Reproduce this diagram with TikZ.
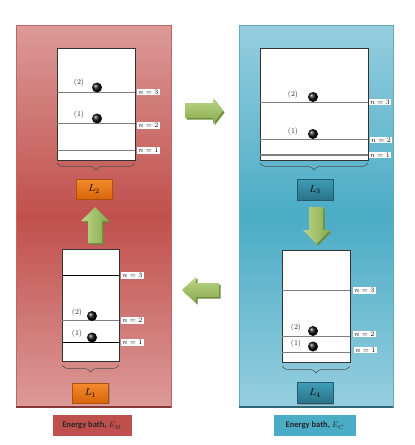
\documentclass[tikz,border=0pt]{standalone}
\usepackage{fontspec}
\newfontfamily\calibri{Carlito}
\usetikzlibrary{decorations.pathreplacing,shadows}
\definecolor{redlight}{HTML}{DC9A98}
\definecolor{reddark}{HTML}{C0504D}
\definecolor{redframe}{HTML}{B0403D}
\definecolor{bluelight}{HTML}{96CEDE}
\definecolor{bluedark}{HTML}{4BACC6}
\definecolor{blueframe}{HTML}{3A93AB}
\definecolor{grlight}{HTML}{BCD68A}
\definecolor{grdark}{HTML}{86A94A}
\definecolor{grshadow}{HTML}{6E8A3A}
\definecolor{orlight}{HTML}{F48C2E}
\definecolor{ordark}{HTML}{D9650B}
\definecolor{tllight}{HTML}{3E9DB8}
\definecolor{tldark}{HTML}{2A7288}
\definecolor{levelgray}{HTML}{7F7F7F}
\tikzset{
  wellbox/.style={draw=black!80, fill=white, line width=0.5pt},
  lvl/.style={draw=levelgray, line width=0.7pt},
  lvlblack/.style={draw=black, line width=0.7pt},
  nlab/.style={fill=white, inner xsep=1.5pt, inner ysep=1pt, anchor=west, font=\fontsize{7.5}{8}\selectfont},
  plab/.style={inner sep=0pt, text=black!85, font=\fontsize{7.5}{8}\selectfont},
  electron/.style={circle, minimum size=10pt, inner sep=0pt, shading=ball, ball color=black!95},
  bracestyle/.style={draw=black!70, line width=0.5pt, decorate, decoration={brace, amplitude=7pt}},
  lorange/.style={minimum width=36pt, minimum height=20pt, inner sep=0pt, top color=orlight, bottom color=ordark, draw=ordark!80!black, line width=0.3pt, drop shadow={shadow xshift=1.2pt, shadow yshift=-1.2pt, opacity=0.6}, font=\fontsize{10}{11}\selectfont},
  lteal/.style={minimum width=36pt, minimum height=21pt, inner sep=0pt, top color=tllight, bottom color=tldark, draw=tldark!80!black, line width=0.3pt, drop shadow={shadow xshift=1.2pt, shadow yshift=-1.2pt, opacity=0.6}, font=\fontsize{10}{11}\selectfont},
  bath/.style={minimum height=23pt, inner sep=0pt, draw=white, line width=2pt, font=\calibri\bfseries\fontsize{8.5}{9}\selectfont, text=black!85, drop shadow={shadow xshift=1pt, shadow yshift=-1pt, opacity=0.35}},
}
\begin{document}
\begin{tikzpicture}[x=1pt,y=-1pt]
\useasboundingbox (0,0) rectangle (415,445);
% panels
\shade[top color=redlight, bottom color=redlight, middle color=reddark] (16,25) rectangle (171,407);
\draw[redframe!80, line width=0.6pt] (16,25) rectangle (171,407);
\draw[reddark!70!black, line width=1.6pt] (16,407) -- (171,407);
\shade[top color=bluelight, bottom color=bluelight, middle color=bluedark] (239,25) rectangle (393,407);
\draw[blueframe!80, line width=0.6pt] (239,25) rectangle (393,407);
\draw[bluedark!60!black, line width=1.6pt] (239,407) -- (393,407);

% ---------- L2 ----------
\node[wellbox, minimum width=78pt, minimum height=112pt, anchor=north west] (b2) at (57,48) {};
\draw[lvl] (57,92) -- (135,92);
\draw[lvl] (57,123) -- (135,123);
\draw[lvl] (57,150) -- (135,150);
\node[nlab] (b2n3) at (137,92) {$n=3$};
\node[nlab] (b2n2) at (137,125.5) {$n=2$};
\node[nlab] (b2n1) at (137,150.5) {$n=1$};
\node[electron] (b2e2) at (97,87.5) {};
\node[electron] (b2e1) at (97,118.5) {};
\node[plab] (b2p2) at (79,83) {(2)};
\node[plab] (b2p1) at (79,114.5) {(1)};
\draw[bracestyle] (135,163) -- (57,163);
\node[lorange] (L2) at (94,189) {$L_2$};

% ---------- L3 ----------
\node[wellbox, minimum width=108pt, minimum height=112pt, anchor=north west] (b3) at (260,48) {};
\draw[lvl] (260,102) -- (368,102);
\draw[lvl] (260,139) -- (368,139);
\draw[levelgray, line width=1.8pt] (260,155) -- (368,155);
\node[nlab] (b3n3) at (368.5,102) {$n=3$};
\node[nlab] (b3n2) at (369.5,140) {$n=2$};
\node[nlab] (b3n1) at (368.5,155) {$n=1$};
\node[electron] (b3e2) at (313,97) {};
\node[electron] (b3e1) at (313,134) {};
\node[plab] (b3p2) at (293,94.5) {(2)};
\node[plab] (b3p1) at (293,132) {(1)};
\draw[bracestyle] (368,163) -- (260,163);
\node[lteal] (L3) at (315,189.5) {$L_3$};

% ---------- L1 ----------
\node[wellbox, minimum width=57pt, minimum height=112pt, anchor=north west] (b1) at (62,249) {};
\draw[lvlblack] (62,275) -- (119,275);
\draw[lvl] (62,320) -- (119,320);
\draw[lvlblack] (62,342) -- (119,342);
\node[nlab] (b1n3) at (121,275.5) {$n=3$};
\node[nlab] (b1n2) at (121,320.5) {$n=2$};
\node[nlab] (b1n1) at (121,342.5) {$n=1$};
\node[electron] (b1e2) at (92,316) {};
\node[electron] (b1e1) at (92,337.5) {};
\node[plab] (b1p2) at (77,313) {(2)};
\node[plab] (b1p1) at (77,334) {(1)};
\draw[bracestyle] (119,365) -- (62,365);
\node[lorange] (L1) at (90.5,393) {$L_1$};

% ---------- L4 ----------
\node[wellbox, minimum width=68pt, minimum height=112pt, anchor=north west] (b4) at (282,250) {};
\draw[lvl] (282,290) -- (350,290);
\draw[lvl] (282,336) -- (350,336);
\draw[lvl] (282,352) -- (350,352);
\node[nlab] (b4n3) at (353,290.5) {$n=3$};
\node[nlab] (b4n2) at (353,334) {$n=2$};
\node[nlab] (b4n1) at (354,350) {$n=1$};
\node[electron] (b4e2) at (313,331) {};
\node[electron] (b4e1) at (313,346.5) {};
\node[plab] (b4p2) at (296,328) {(2)};
\node[plab] (b4p1) at (296,344) {(1)};
\draw[bracestyle] (350,366) -- (282,366);
\node[lteal] (L4) at (315,393) {$L_4$};

% ---------- green arrows ----------
% right arrow (top)
\fill[grshadow] (186.5,104.5) -- (214.5,104.5) -- (214.5,99.5) -- (224.5,112.5) -- (214.5,125.5) -- (214.5,119.5) -- (186.5,119.5) -- cycle;
\shade[top color=grlight, bottom color=grdark] (185,103) -- (213,103) -- (213,98) -- (223,111) -- (213,124) -- (213,118) -- (185,118) -- cycle;
% down arrow
\fill[grshadow] (310.5,208.5) -- (324.5,208.5) -- (324.5,231.5) -- (331.5,231.5) -- (318,245.5) -- (304.5,231.5) -- (310.5,231.5) -- cycle;
\shade[left color=grlight, right color=grdark] (309,207) -- (323,207) -- (323,230) -- (330,230) -- (316.5,244) -- (303,230) -- (309,230) -- cycle;
% left arrow (bottom)
\fill[grshadow] (220.5,284.5) -- (197.5,284.5) -- (197.5,278.5) -- (183.5,291.5) -- (197.5,304.5) -- (197.5,298.5) -- (220.5,298.5) -- cycle;
\shade[top color=grlight, bottom color=grdark] (219,283) -- (196,283) -- (196,277) -- (182,290) -- (196,303) -- (196,297) -- (219,297) -- cycle;
% up arrow
\fill[grshadow] (89.5,244.5) -- (103.5,244.5) -- (103.5,222.5) -- (110.5,222.5) -- (96.5,208.5) -- (82.5,222.5) -- (89.5,222.5) -- cycle;
\shade[left color=grlight, right color=grdark] (88,243) -- (102,243) -- (102,221) -- (109,221) -- (95,207) -- (81,221) -- (88,221) -- cycle;

% ---------- energy baths ----------
\node[bath, fill=reddark, minimum width=81pt] (bathH) at (92,425.5) {Energy bath, $E_H$};
\node[bath, fill=bluedark, minimum width=84pt] (bathC) at (315,425.5) {Energy bath, $E_C$};
\end{tikzpicture}
\end{document}
